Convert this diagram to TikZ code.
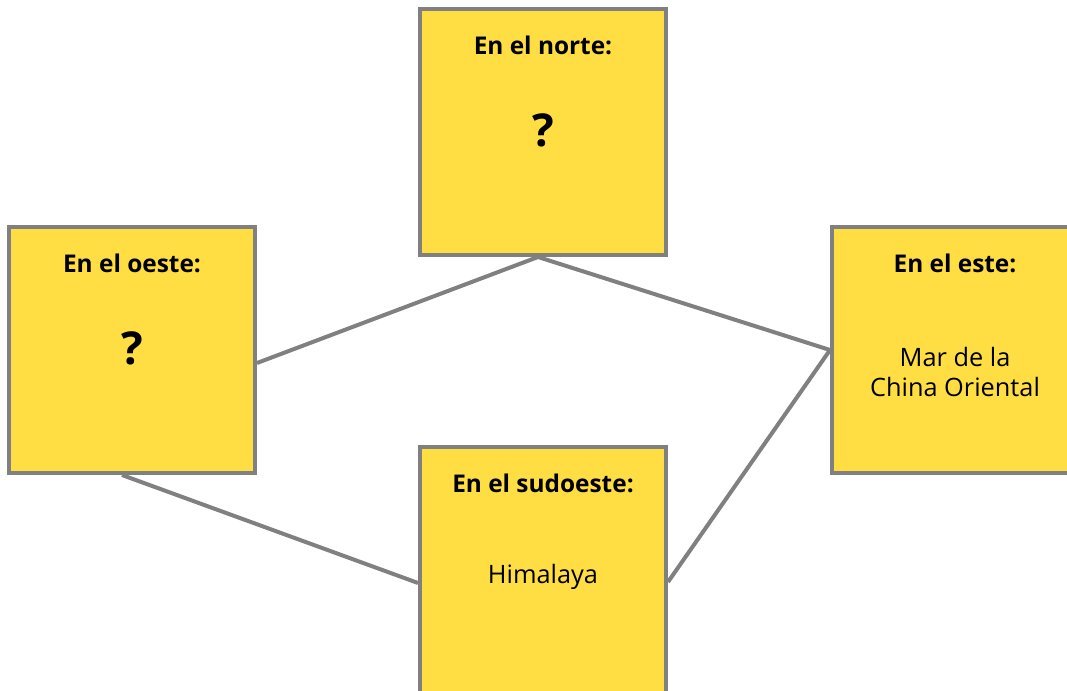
\documentclass[tikz,border=0pt]{standalone}
\usepackage{fontspec}
\setmainfont{Open Sans}
\usetikzlibrary{calc}
\definecolor{boxyellow}{HTML}{FFDE44}
\definecolor{edgegray}{HTML}{808080}
\begin{document}
\begin{tikzpicture}[x=0.75pt,y=-0.75pt,
  box/.style={draw=edgegray, fill=boxyellow, line width=3pt, minimum width=184.5pt, minimum height=184.5pt, inner sep=0pt},
  title/.style={font=\bfseries\fontsize{18.3}{22}\selectfont, text=black},
  body/.style={font=\fontsize{19}{22.5}\selectfont, text=black, align=center},
  qmark/.style={font=\bfseries\fontsize{34}{40}\selectfont, text=black},
  link/.style={draw=edgegray, line width=3pt}]
\useasboundingbox (0,0) rectangle (1067,691);
\clip (0,0) rectangle (1067,691);
\node[box] (n) at (543,132) {};
\node[box] (w) at (132,350) {};
\node[box] (e) at (955,350) {};
\node[box] (s) at (543,570) {};
\draw[link] ($(n.south)+(-5,0)$) -- ($(w.east)+(0,13)$);
\draw[link] ($(n.south)+(-5,0)$) -- (e.west);
\draw[link] ($(w.south)+(-10,0)$) -- ($(s.west)+(0,13)$);
\draw[link] ($(s.east)+(0,12)$) -- (e.west);
\node[title] (nt) at (543,45) {En el norte:};
\node[qmark] (nq) at (543,130) {?};
\node[title] (wt) at (132,263) {En el oeste:};
\node[qmark] (wq) at (132,348) {?};
\node[title] (et) at (955,263) {En el este:};
\node[body] (eb) at (955,372) {Mar de la\\China Oriental};
\node[title] (st) at (543,483) {En el sudoeste:};
\node[body] (sb) at (543,577) {Himalaya};
\end{tikzpicture}
\end{document}
